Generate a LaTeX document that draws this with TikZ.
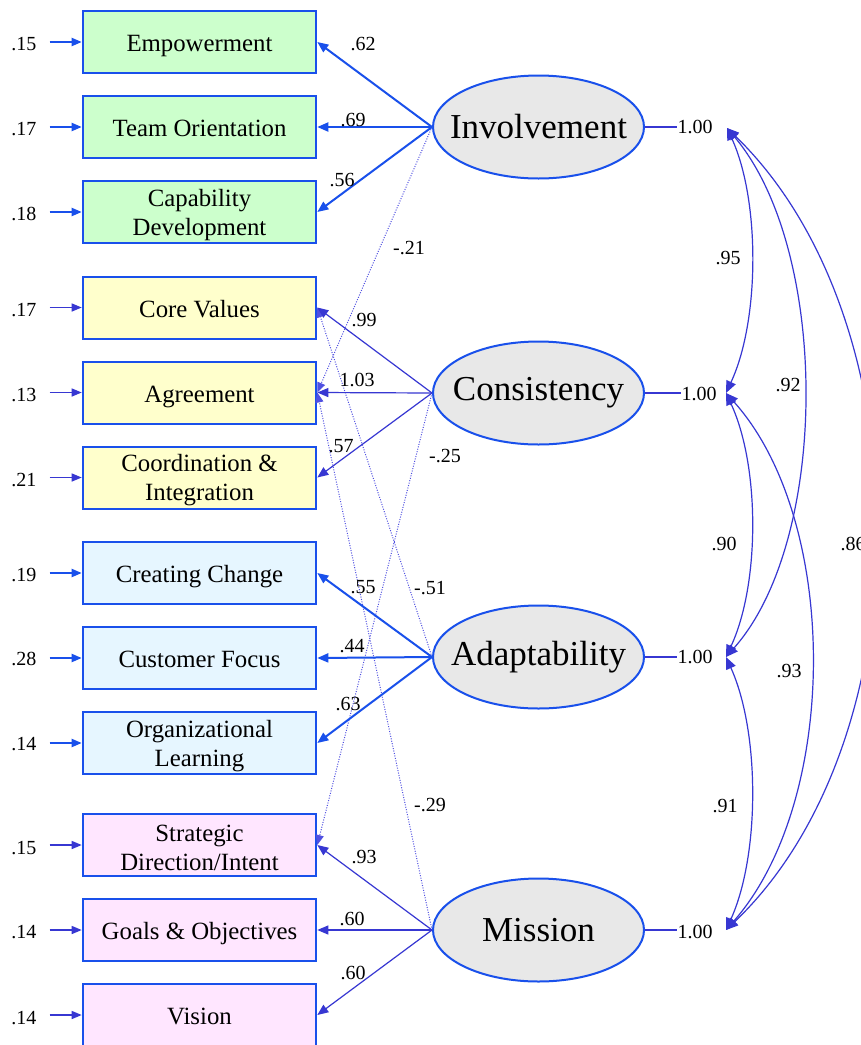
\documentclass[tikz,border=0pt]{standalone}
\usepackage{fontspec}
\setmainfont{Liberation Serif}
\usetikzlibrary{arrows.meta,shapes.geometric}
\definecolor{bblue}{RGB}{25,80,235}
\definecolor{pblue}{RGB}{55,55,210}
\definecolor{dblue}{RGB}{80,80,225}
\definecolor{gfill}{RGB}{204,255,204}
\definecolor{yfill}{RGB}{255,255,204}
\definecolor{bfill}{RGB}{230,246,255}
\definecolor{pfill}{RGB}{255,230,255}
\definecolor{lfill}{RGB}{232,232,232}
\newcommand{\zw}[1]{\makebox[0pt]{#1}}
\newcommand{\fl}{\rule{0pt}{23pt}}
\tikzset{
  box/.style={draw=bblue, line width=2pt, minimum width=233.6pt, minimum height=62pt, inner sep=0pt, align=center, font=\fontsize{24.8}{29}\selectfont},
  sbox/.style={box, text height=24pt, text depth=5pt},
  lat/.style={ellipse, draw=bblue, line width=2pt, fill=lfill, minimum width=211pt, minimum height=103pt, inner sep=0pt, font=\fontsize{35}{40}\selectfont},
  num/.style={inner sep=0pt, font=\fontsize{20}{24}\selectfont},
  thickarr/.style={draw=bblue, line width=2pt, -{Triangle[length=11pt,width=9pt]}},
  thinarr/.style={draw=pblue, line width=1.2pt, -{Triangle[length=11pt,width=9pt]}},
  dotarr/.style={draw=dblue, line width=1pt, dash pattern=on 1pt off 1.5pt, -{Triangle[length=10pt,width=8pt]}},
  thickerr/.style={draw=bblue, line width=2pt, shorten <=13pt, -{Triangle[length=10pt,width=8pt]}},
  thinerr/.style={draw=pblue, line width=1.4pt, shorten <=13pt, -{Triangle[length=10pt,width=8pt]}},
  cov/.style={draw=pblue, line width=1.2pt, {Triangle[length=12pt,width=10pt]}-{Triangle[length=12pt,width=10pt]}},
  varline/.style={draw=pblue, line width=1.2pt}
}
\begin{document}
\begin{tikzpicture}[x=1pt,y=-1pt]
\useasboundingbox (0,0) rectangle (861,1045);
\clip (0,0) rectangle (861,1045);
\fill[white] (0,0) rectangle (861,1045);

% observed boxes
\node[sbox, fill=gfill] (emp) at (199.5,42) {Empowerment};
\node[sbox, fill=gfill] (team) at (199.5,127) {Team Orientation};
\node[box, fill=gfill] (cap) at (199.5,212) {\fl Capability\\Development};
\node[sbox, fill=yfill] (core) at (199.5,307.5) {Core Values};
\node[sbox, fill=yfill] (agr) at (199.5,392.5) {Agreement};
\node[box, fill=yfill] (coord) at (199.5,477.5) {\fl Coordination \&\\Integration};
\node[sbox, fill=bfill] (cre) at (199.5,573) {Creating Change};
\node[sbox, fill=bfill] (cust) at (199.5,658) {Customer Focus};
\node[box, fill=bfill] (org) at (199.5,743) {\fl Organizational\\Learning};
\node[box, fill=pfill] (strat) at (199.5,845) {\fl Strategic\\Direction/Intent};
\node[sbox, fill=pfill] (goal) at (199.5,930) {Goals \& Objectives};
\node[sbox, fill=pfill] (vis) at (199.5,1015) {Vision};

% error terms
\node[num] (e1) at (24,44) {.15};
\node[num] (e2) at (24,129) {.17};
\node[num] (e3) at (24,214) {.18};
\node[num] (e4) at (24,310) {.17};
\node[num] (e5) at (24,395) {.13};
\node[num] (e6) at (24,480) {.21};
\node[num] (e7) at (24,575) {.19};
\node[num] (e8) at (24,659) {.28};
\node[num] (e9) at (24,744) {.14};
\node[num] (e10) at (24,848) {.15};
\node[num] (e11) at (24,932) {.14};
\node[num] (e12) at (24,1018) {.14};
\draw[thickerr] (e1.east |- emp.west) -- (emp.west);
\draw[thickerr] (e2.east |- team.west) -- (team.west);
\draw[thickerr] (e3.east |- cap.west) -- (cap.west);
\draw[thinerr] (e4.east |- core.west) -- (core.west);
\draw[thinerr] (e5.east |- agr.west) -- (agr.west);
\draw[thinerr] (e6.east |- coord.west) -- (coord.west);
\draw[thickerr] (e7.east |- cre.west) -- (cre.west);
\draw[thickerr] (e8.east |- cust.west) -- (cust.west);
\draw[thickerr] (e9.east |- org.west) -- (org.west);
\draw[thinerr] (e10.east |- strat.west) -- (strat.west);
\draw[thinerr] (e11.east |- goal.west) -- (goal.west);
\draw[thinerr] (e12.east |- vis.west) -- (vis.west);

% latent variables
\node[lat] (inv) at (538.5,127) {\zw{Involvement}};
\node[lat] (cons) at (538.5,393) {\zw{Consistency}};
\node[lat] (adap) at (538.5,657) {\zw{Adaptability}};
\node[lat] (mis) at (538.5,930) {\zw{Mission}};

% cross loadings (dotted)
\draw[dotarr] (inv.west) -- (agr.east);
\draw[dotarr] (cons.west) -- (strat.east);
\draw[dotarr] (adap.west) -- (core.east);
\draw[dotarr] (mis.west) -- (agr.east);
\node[num] (l21) at (409,248) {-.21};
\node[num] (l25) at (445,456) {-.25};
\node[num] (l51) at (430,588) {-.51};
\node[num] (l29) at (430,805) {-.29};

% loadings
\draw[thickarr] (inv.west) -- (emp.east);
\draw[thickarr] (inv.west) -- (team.east);
\draw[thickarr] (inv.west) -- (cap.east);
\draw[thinarr] (cons.west) -- (core.east);
\draw[thinarr] (cons.west) -- (agr.east);
\draw[thinarr] (cons.west) -- (coord.east);
\draw[thickarr] (adap.west) -- (cre.east);
\draw[thickarr] (adap.west) -- (cust.east);
\draw[thickarr] (adap.west) -- (org.east);
\draw[thinarr] (mis.west) -- (strat.east);
\draw[thinarr] (mis.west) -- (goal.east);
\draw[thinarr] (mis.west) -- (vis.east);

\node[num] (l1) at (363,44) {.62};
\node[num] (l2) at (353,120) {.69};
\node[num] (l3) at (342,180) {.56};
\node[num] (l4) at (364,320) {.99};
\node[num] (l5) at (357,380) {1.03};
\node[num] (l6) at (341,446) {.57};
\node[num] (l7) at (363,587) {.55};
\node[num] (l8) at (352,646) {.44};
\node[num] (l9) at (348,704) {.63};
\node[num] (l10) at (364,857) {.93};
\node[num] (l11) at (352,919) {.60};
\node[num] (l12) at (353,973) {.60};

% variances
\node[num] (v1) at (695,127) {1.00};
\node[num] (v2) at (699,394) {1.00};
\node[num] (v3) at (695,657) {1.00};
\node[num] (v4) at (695,932) {1.00};
\draw[varline] (inv.east) -- (v1.west |- inv.east);
\draw[varline] (cons.east) -- (v2.west |- cons.east);
\draw[varline] (adap.east) -- (v3.west |- adap.east);
\draw[varline] (mis.east) -- (v4.west |- mis.east);

\coordinate (k1) at (727,128);
\coordinate (k2) at (726,393);
\coordinate (k3) at (726,657);
\coordinate (k4) at (726,930);

% covariances
\draw[cov] (k1) .. controls (760,200) and (760,320) .. (k2);
\draw[cov] (k2) .. controls (760,466) and (760,584) .. (k3);
\draw[cov] (k3) .. controls (760,732) and (760,855) .. (k4);
\draw[cov] (k1) .. controls (830,250) and (830,540) .. (k3);
\draw[cov] (k2) .. controls (840,520) and (840,800) .. (k4);
\draw[cov] (k1) .. controls (925,320) and (925,740) .. (k4);

\node[num] (c95) at (728,258) {.95};
\node[num] (c92) at (788,385) {.92};
\node[num] (c90) at (724,544) {.90};
\node[num] (c93) at (789,671) {.93};
\node[num] (c91) at (725,806) {.91};
\node[num] (c86) at (853,544) {.86};
\end{tikzpicture}
\end{document}
